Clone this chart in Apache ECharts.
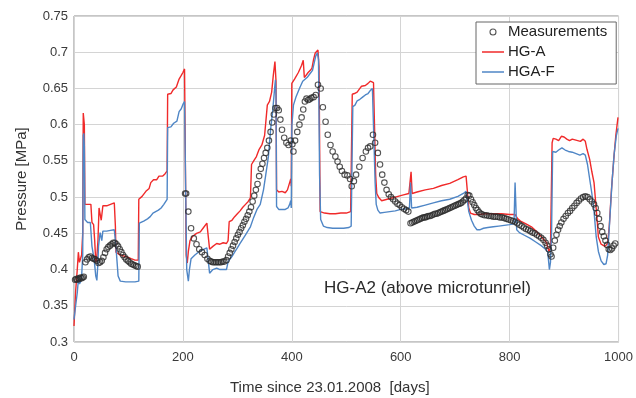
<!DOCTYPE html>
<html>
<head>
<meta charset="utf-8">
<script src="https://cdn.jsdelivr.net/npm/echarts@6/dist/echarts.min.js"></script>
<style>
html,body{margin:0;padding:0;background:#fff;}
#chart{width:636px;height:398px;}
</style>
</head>
<body>
<div id="chart"></div>
<script>
// ---- data (days since 23.01.2008, pressure in MPa) ----
const xTicks = [0, 200, 400, 600, 800, 1000];
const yTicks = [0.3, 0.35, 0.4, 0.45, 0.5, 0.55, 0.6, 0.65, 0.7, 0.75];
const seriesNames = ['Measurements', 'HG-A', 'HGA-F'];
const annotation = 'HG-A2 (above microtunnel)';
const xTitle = 'Time since 23.01.2008  [days]';
const yTitle = 'Pressure [MPa]';

const measurements = [
[2,0.386],[4,0.387],[6,0.386],[8,0.388],[10,0.387],[12,0.389],[14,0.388],[16,0.389],[18,0.39],
[21,0.41],[24,0.414],[27,0.417],[30,0.418],[33,0.416],[36,0.415],[39,0.414],[42,0.412],[45,0.409],[48,0.41],[51,0.412],
[54,0.417],[57,0.423],[60,0.428],[63,0.431],[66,0.433],[69,0.435],[72,0.437],[75,0.437],[78,0.435],[81,0.432],[84,0.428],
[87,0.424],[90,0.42],[93,0.417],[96,0.414],[99,0.412],[102,0.41],[105,0.408],[108,0.407],[111,0.406],[114,0.405],[117,0.404],
[204,0.505],[206,0.505],[210,0.48],[215,0.457],[220,0.443],[225,0.435],[230,0.428],[235,0.424],[240,0.42],[245,0.415],
[249,0.412],[252,0.411],[255,0.41],[258,0.41],[261,0.41],[264,0.41],[267,0.41],[270,0.41],[273,0.411],[276,0.411],
[280,0.413],[283,0.418],[286,0.423],[289,0.428],[292,0.433],[295,0.438],[298,0.443],[301,0.448],[304,0.452],[307,0.457],
[310,0.461],[313,0.466],[316,0.47],[319,0.475],[322,0.48],[325,0.486],[328,0.494],[331,0.502],[334,0.51],[337,0.518],
[340,0.529],[343,0.539],[346,0.546],[349,0.554],[352,0.561],[355,0.568],[358,0.578],[361,0.59],[364,0.603],[367,0.614],
[370,0.623],[373,0.623],[376,0.62],[379,0.607],[382,0.593],[386,0.582],[390,0.575],[394,0.572],[398,0.578],[401,0.573],
[403,0.563],[406,0.578],[410,0.59],[414,0.6],[418,0.61],[421,0.621],[424,0.632],[427,0.636],[430,0.634],[433,0.635],
[436,0.637],[440,0.638],[444,0.641],[448,0.655],[453,0.65],[457,0.624],[462,0.604],[466,0.586],[471,0.572],[475,0.563],
[480,0.556],[484,0.549],[488,0.542],[492,0.536],[497,0.531],[502,0.53],[507,0.525],[510,0.515],[514,0.522],[518,0.531],
[524,0.542],[530,0.554],[536,0.563],[540,0.568],[544,0.57],[549,0.586],[553,0.575],[558,0.561],[562,0.545],[566,0.531],
[570,0.52],[574,0.51],[578,0.504],[582,0.5],[586,0.497],[590,0.494],[594,0.491],[598,0.489],[602,0.486],[606,0.484],
[610,0.482],[614,0.48],
[618,0.464],[621,0.465],[624,0.466],[627,0.467],[630,0.468],[633,0.469],[636,0.47],[639,0.471],[642,0.472],[645,0.472],
[648,0.473],[651,0.474],[654,0.474],[657,0.475],[660,0.476],[663,0.477],[666,0.477],[669,0.478],[672,0.479],[675,0.48],
[678,0.481],[681,0.482],[684,0.483],[687,0.484],[690,0.485],[693,0.486],[696,0.487],[699,0.488],[702,0.489],[705,0.49],
[708,0.491],[711,0.492],[714,0.494],[717,0.496],[720,0.498],[723,0.503],[726,0.502],[729,0.497],[732,0.493],[735,0.489],
[738,0.485],[741,0.482],[744,0.479],[747,0.477],[750,0.476],[754,0.475],[758,0.475],[762,0.474],[766,0.474],[770,0.473],
[774,0.473],[778,0.473],[782,0.472],[786,0.472],[790,0.471],[794,0.47],[798,0.469],[802,0.468],[806,0.467],[810,0.466],
[814,0.464],[818,0.462],[822,0.46],[826,0.458],[830,0.456],[834,0.455],[838,0.453],[842,0.451],[846,0.45],[850,0.448],
[854,0.446],[858,0.444],[862,0.441],[866,0.437],[869,0.433],[872,0.428],[875,0.421],[877,0.418],[880,0.43],[883,0.44],
[886,0.448],[889,0.455],[892,0.46],[895,0.465],[899,0.47],[903,0.474],[907,0.478],[911,0.481],[915,0.485],[919,0.488],
[923,0.492],[927,0.495],[931,0.498],[935,0.5],[939,0.501],[943,0.5],[947,0.497],[951,0.494],[955,0.49],[958,0.485],
[961,0.478],[964,0.47],[967,0.46],[970,0.452],[973,0.446],[976,0.44],[979,0.434],[982,0.428],[985,0.427],[988,0.429],
[991,0.433],[994,0.436]
];

const hgA = [
[0,0.322],[3,0.37],[6,0.40],[8,0.424],[10,0.41],[12,0.412],[14,0.42],[16,0.45],[17,0.616],[18,0.617],[19,0.60],[20,0.49],
[25,0.49],[31,0.49],[33,0.465],[36,0.462],[38,0.44],[40,0.41],[42,0.418],[44,0.44],[46,0.485],[49,0.487],[50,0.468],
[52,0.468],[53,0.488],[60,0.488],[67,0.49],[74,0.492],[76,0.46],[77,0.424],[85,0.42],[95,0.418],[105,0.415],[112,0.413],
[118,0.413],[119,0.497],[125,0.501],[132,0.508],[138,0.512],[141,0.52],[146,0.524],[152,0.524],[156,0.529],[163,0.529],
[167,0.532],[171,0.536],[172,0.642],[178,0.643],[182,0.648],[188,0.652],[193,0.663],[197,0.668],[200,0.672],[203,0.677],
[205,0.676],[206,0.42],[208,0.409],[210,0.425],[213,0.44],[218,0.446],[225,0.45],[232,0.452],[238,0.458],[244,0.464],
[247,0.466],[249,0.428],[255,0.432],[262,0.436],[268,0.435],[274,0.437],[280,0.436],[283,0.44],[285,0.466],[290,0.468],
[295,0.473],[300,0.477],[305,0.481],[310,0.486],[315,0.49],[320,0.494],[324,0.499],[326,0.545],[330,0.55],[335,0.556],
[340,0.566],[345,0.572],[350,0.585],[353,0.61],[355,0.627],[359,0.632],[363,0.645],[366,0.668],[369,0.687],[371,0.66],
[372,0.51],[376,0.507],[382,0.508],[388,0.506],[392,0.51],[396,0.52],[398,0.525],[399,0.515],[400,0.657],[405,0.663],
[412,0.672],[418,0.682],[421,0.689],[423,0.665],[426,0.663],[430,0.672],[434,0.675],[437,0.678],[440,0.69],[443,0.699],
[446,0.70],[448,0.703],[450,0.68],[452,0.48],[460,0.478],[470,0.477],[480,0.477],[490,0.478],[500,0.478],[508,0.48],
[511,0.642],[515,0.643],[520,0.645],[525,0.65],[528,0.653],[535,0.654],[540,0.657],[544,0.66],[547,0.662],[550,0.658],
[552,0.66],[554,0.53],[556,0.505],[560,0.499],[565,0.495],[575,0.497],[590,0.50],[605,0.503],[615,0.505],[618,0.506],
[619,0.535],[620,0.536],[621,0.505],[630,0.507],[645,0.51],[660,0.512],[675,0.516],[690,0.519],[705,0.524],[715,0.528],
[720,0.529],[723,0.527],[725,0.485],[728,0.478],[735,0.476],[745,0.476],[755,0.477],[770,0.477],[785,0.477],[800,0.476],
[810,0.476],[815,0.47],[820,0.467],[830,0.463],[840,0.459],[850,0.452],[860,0.444],[868,0.437],[872,0.425],[875,0.43],
[878,0.575],[880,0.581],[885,0.58],[890,0.578],[895,0.584],[900,0.583],[905,0.58],[910,0.578],[915,0.58],[920,0.579],
[925,0.578],[930,0.577],[935,0.58],[939,0.577],[942,0.566],[947,0.552],[951,0.535],[955,0.52],[960,0.475],[963,0.445],
[968,0.435],[975,0.432],[980,0.436],[983,0.46],[987,0.51],[991,0.55],[995,0.585],[999,0.61]
];

const hgaF = [
[0,0.331],[3,0.35],[6,0.368],[8,0.386],[10,0.38],[12,0.383],[14,0.39],[16,0.42],[17,0.585],[18,0.588],[19,0.57],[20,0.469],
[25,0.465],[30,0.465],[33,0.432],[37,0.414],[40,0.391],[42,0.385],[44,0.41],[45,0.432],[48,0.451],[50,0.444],[51,0.44],
[53,0.453],[60,0.453],[67,0.454],[74,0.455],[76,0.44],[77,0.432],[81,0.391],[85,0.384],[95,0.383],[105,0.383],[112,0.383],
[119,0.384],[120,0.464],[128,0.467],[135,0.47],[140,0.473],[145,0.478],[150,0.48],[155,0.482],[160,0.485],[165,0.49],
[171,0.497],[172,0.596],[178,0.597],[183,0.602],[189,0.605],[193,0.618],[197,0.622],[200,0.628],[203,0.632],[205,0.63],
[207,0.40],[210,0.384],[212,0.40],[215,0.415],[222,0.42],[230,0.425],[238,0.428],[244,0.43],[247,0.431],[249,0.395],
[255,0.40],[262,0.402],[268,0.40],[274,0.40],[280,0.40],[283,0.411],[290,0.418],[295,0.424],[300,0.43],[305,0.436],
[310,0.442],[315,0.448],[320,0.454],[324,0.459],[330,0.472],[336,0.483],[342,0.49],[348,0.51],[352,0.53],[357,0.556],
[361,0.593],[365,0.62],[369,0.655],[370,0.662],[371,0.64],[372,0.487],[376,0.483],[382,0.483],[388,0.483],[393,0.485],
[396,0.49],[398,0.495],[399,0.485],[400,0.598],[403,0.627],[408,0.639],[414,0.65],[420,0.66],[428,0.665],[434,0.671],
[438,0.675],[441,0.685],[444,0.695],[447,0.699],[449,0.69],[451,0.53],[453,0.469],[458,0.46],[465,0.458],[475,0.457],
[485,0.457],[495,0.457],[505,0.458],[509,0.46],[512,0.625],[516,0.627],[520,0.633],[525,0.635],[530,0.638],[535,0.641],
[540,0.643],[544,0.647],[548,0.65],[551,0.648],[553,0.52],[555,0.49],[558,0.482],[562,0.478],[570,0.479],[580,0.48],
[590,0.481],[600,0.483],[610,0.484],[616,0.485],[618,0.52],[619,0.52],[620,0.485],[630,0.486],[645,0.489],[660,0.492],
[675,0.495],[690,0.497],[705,0.501],[715,0.505],[720,0.508],[722,0.508],[725,0.48],[730,0.468],[735,0.46],[740,0.455],
[746,0.455],[752,0.457],[760,0.458],[770,0.459],[780,0.46],[790,0.461],[800,0.462],[808,0.463],[810,0.52],[811,0.52],
[813,0.455],[818,0.451],[828,0.447],[838,0.443],[848,0.438],[858,0.433],[866,0.428],[870,0.424],[873,0.40],[875,0.41],
[877,0.45],[879,0.563],[885,0.562],[890,0.565],[896,0.568],[902,0.565],[908,0.563],[915,0.562],[922,0.56],[929,0.558],
[935,0.56],[939,0.558],[943,0.545],[947,0.525],[951,0.505],[955,0.48],[959,0.445],[963,0.425],[968,0.412],[973,0.407],
[977,0.408],[980,0.42],[984,0.47],[988,0.52],[992,0.56],[996,0.585],[999,0.595]
];

// ---- chart ----
const FONT = '"Liberation Sans", Arial, sans-serif';
const chart = echarts.init(document.getElementById('chart'), null, {renderer: 'canvas'});
const circleStyle = {color: 'rgba(0,0,0,0)', borderColor: '#2a2a2a', borderWidth: 1.1};
const lineIcon = 'path://M0,0H22V1.5H0Z';

chart.setOption({
  animation: false,
  backgroundColor: '#fff',
  grid: {left: 74, right: 9, top: 16, bottom: 56, show: true, borderColor: '#8c8c8c', borderWidth: 1, backgroundColor: 'transparent'},
  xAxis: {
    type: 'value', min: xTicks[0], max: xTicks[xTicks.length - 1], interval: xTicks[1] - xTicks[0],
    axisLine: {show: false}, axisTick: {show: false},
    splitLine: {show: true, lineStyle: {color: '#d4d4d4', width: 1}},
    axisLabel: {color: '#3a3a3a', fontSize: 13, fontFamily: FONT, margin: 9,
      formatter: v => String(Math.round(v))}
  },
  yAxis: {
    type: 'value', min: yTicks[0], max: yTicks[yTicks.length - 1], interval: 0.05,
    name: yTitle, nameLocation: 'middle', nameGap: 45, nameRotate: 90,
    nameTextStyle: {color: '#333', fontSize: 15, fontFamily: FONT},
    axisLine: {show: false}, axisTick: {show: false},
    splitLine: {show: true, lineStyle: {color: '#d4d4d4', width: 1}},
    axisLabel: {color: '#3a3a3a', fontSize: 13, fontFamily: FONT, margin: 6,
      formatter: v => String(+v.toFixed(2))}
  },
  legend: {
    orient: 'vertical', left: 476, top: 22,
    padding: [0, 9, 2, 6], itemGap: 0, itemWidth: 22, itemHeight: 6,
    backgroundColor: '#fff', borderColor: '#666', borderWidth: 1,
    textStyle: {color: '#222', fontSize: 15, fontFamily: FONT, lineHeight: 20, padding: [0, 0, 0, -1]},
    data: [
      {name: seriesNames[0], icon: 'circle', itemStyle: circleStyle},
      {name: seriesNames[1], icon: lineIcon, itemStyle: {color: '#f02a2a', borderWidth: 0}},
      {name: seriesNames[2], icon: lineIcon, itemStyle: {color: '#4f86c6', borderWidth: 0}}
    ]
  },
  graphic: [
    {type: 'text', left: 230, top: 380, style: {text: xTitle, fill: '#333', font: '15px ' + FONT}},
    {type: 'text', left: 324, top: 280, style: {text: annotation, fill: '#2a2a2a', font: '17px ' + FONT}}
  ],
  series: [
    {name: seriesNames[1], type: 'line', data: hgA, showSymbol: false, symbol: 'none',
      lineStyle: {color: '#f02a2a', width: 1.4}, itemStyle: {color: '#f02a2a'}, z: 2},
    {name: seriesNames[2], type: 'line', data: hgaF, showSymbol: false, symbol: 'none',
      lineStyle: {color: '#4f86c6', width: 1.4}, itemStyle: {color: '#4f86c6'}, z: 3},
    {name: seriesNames[0], type: 'scatter', data: measurements, symbol: 'circle', symbolSize: 5.5,
      itemStyle: circleStyle, z: 4}
  ]
});
</script>
</body>
</html>
